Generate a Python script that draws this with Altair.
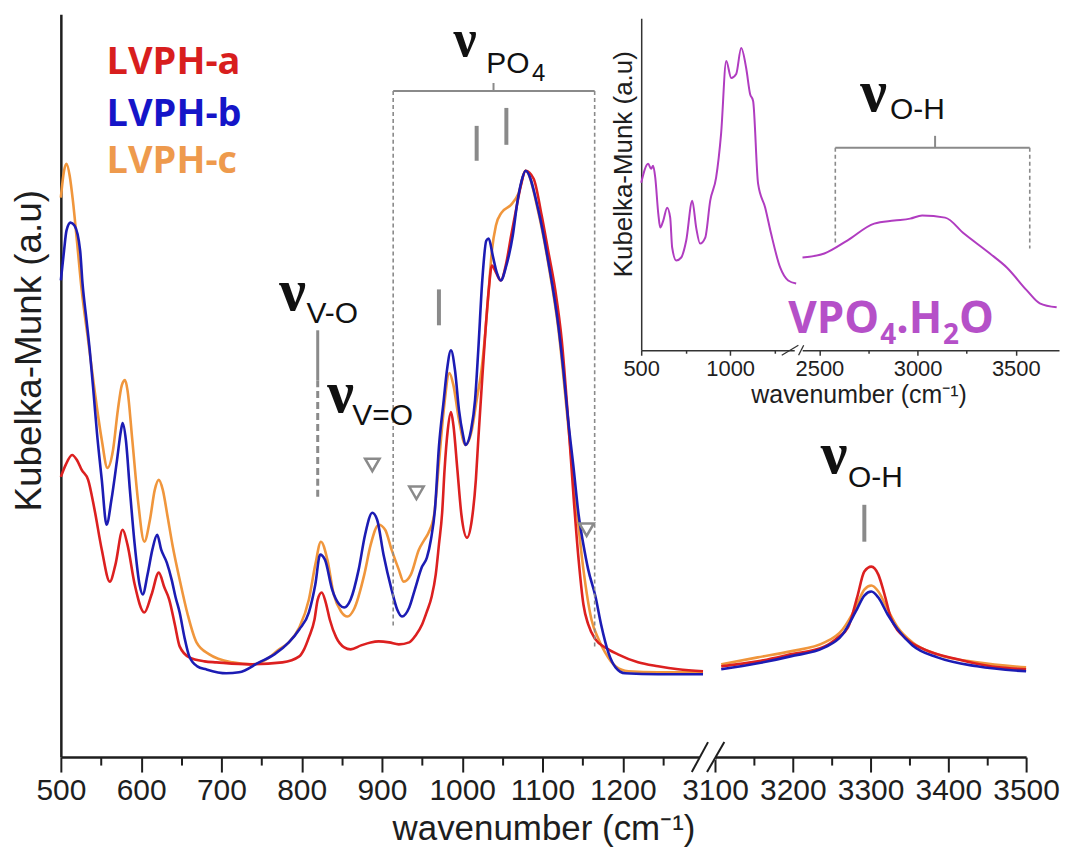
import altair as alt
import pandas as pd

# ---------------- main spectra (wavenumber in cm-1, Kubelka-Munk in a.u.) ----------------
a_wn_low = [500, 506, 514, 520, 526, 534, 542, 551, 561, 568, 577, 583, 592, 604, 613, 622, 629, 635, 642, 648,
            660, 679, 694, 735, 776, 797, 803, 809, 816, 820, 825, 830, 835, 843, 853, 861, 874, 886, 896, 909,
            921, 934, 942, 950, 956, 962, 967, 971, 975, 978, 982, 986, 989, 994, 999, 1006, 1012, 1017, 1020, 1024,
            1029, 1033, 1037, 1042, 1048, 1055, 1061, 1068, 1073, 1079, 1089, 1099, 1107, 1116, 1124, 1132, 1139,
            1145, 1151, 1157, 1166, 1178, 1194, 1219, 1244, 1269, 1300]
a_km_low = [2.81, 2.93, 3.03, 2.98, 2.88, 2.78, 2.48, 2.08, 1.76, 1.93, 2.28, 2.13, 1.73, 1.45, 1.63, 1.85, 1.70, 1.58, 1.33, 1.11,
            1.00, 0.96, 0.95, 0.93, 0.95, 1.01, 1.08, 1.20, 1.38, 1.58, 1.65, 1.55, 1.38, 1.20, 1.10, 1.08, 1.12, 1.15, 1.16, 1.15,
            1.13, 1.15, 1.22, 1.33, 1.46, 1.61, 1.83, 2.13, 2.45, 2.88, 3.28, 3.46, 3.33, 2.88, 2.43, 2.20, 2.38, 2.78, 3.18, 3.68,
            4.28, 4.68, 4.93, 4.86, 4.78, 4.96, 5.23, 5.53, 5.73, 5.88, 5.80, 5.43, 5.08, 4.68, 4.18, 3.38, 2.58,
            1.98, 1.53, 1.33, 1.18, 1.10, 1.03, 0.95, 0.91, 0.88, 0.86]
a_wn_high = [3108, 3155, 3197, 3241, 3258, 3271, 3283, 3292, 3301, 3310, 3318, 3326, 3347, 3369, 3412, 3454, 3500]
a_km_high = [0.91, 0.96, 1.03, 1.11, 1.20, 1.30, 1.61, 1.86, 1.91, 1.83, 1.63, 1.40, 1.18, 1.08, 0.98, 0.91, 0.88]

b_wn_low = [500, 504, 507, 512, 517, 524, 527, 532, 536, 541, 545, 551, 557, 563, 570, 575, 577, 581, 586, 592,
            598, 602, 608, 614, 620, 625, 632, 638, 643, 648, 654, 660, 670, 681, 706, 722, 747, 766, 784, 797,
            809, 817, 823, 829, 838, 847, 853, 861, 871, 879, 888, 894, 902, 912, 919, 925, 934, 941, 950, 956,
            961, 966, 971, 977, 981, 986, 991, 996, 1001, 1004, 1011, 1016, 1020, 1025, 1030, 1033, 1038, 1043, 1048, 1055,
            1063, 1069, 1074, 1079, 1095, 1107, 1120, 1126, 1132, 1139, 1145, 1151, 1157, 1166, 1173, 1182, 1191, 1203, 1244, 1300]
b_km_low = [4.78, 5.08, 5.28, 5.36, 5.33, 5.08, 4.75, 4.38, 4.08, 3.63, 3.25, 2.78, 2.33, 2.58, 2.98, 3.28, 3.35, 3.18, 2.68, 2.13,
            1.73, 1.63, 1.83, 2.08, 2.23, 2.08, 1.95, 1.78, 1.60, 1.45, 1.20, 1.01, 0.91, 0.88, 0.84, 0.85, 0.95, 1.03, 1.15, 1.28,
            1.45, 1.73, 2.03, 1.98, 1.68, 1.53, 1.50, 1.58, 1.88, 2.23, 2.45, 2.38, 2.03, 1.68, 1.48, 1.41, 1.50, 1.68, 1.91, 2.00,
            2.18, 2.48, 3.11, 3.58, 3.88, 4.08, 3.88, 3.48, 3.23, 3.13, 3.28, 3.58, 4.08, 4.78, 5.18, 5.20, 5.03, 4.86, 4.78, 4.93,
            5.23, 5.58, 5.78, 5.88, 5.48, 4.98, 4.31, 3.88, 3.38, 2.88, 2.43, 2.13, 1.88, 1.61, 1.33, 1.05, 0.90, 0.84, 0.83, 0.83]
b_wn_high = [3108, 3155, 3197, 3241, 3264, 3281, 3292, 3301, 3310, 3322, 3335, 3354, 3386, 3437, 3500]
b_km_high = [0.88, 0.94, 1.01, 1.10, 1.23, 1.46, 1.62, 1.66, 1.60, 1.43, 1.28, 1.12, 1.00, 0.91, 0.86]

c_wn_low = [500, 504, 507, 511, 515, 520, 526, 534, 542, 551, 558, 565, 571, 576, 580, 583, 589, 596, 604, 611,
            617, 622, 627, 633, 639, 648, 658, 669, 685, 714, 739, 756, 772, 784, 797, 809, 817, 824, 832, 840,
            849, 857, 865, 878, 886, 896, 904, 912, 921, 927, 936, 946, 953, 958, 965, 971, 977, 984, 989, 996,
            1004, 1012, 1018, 1024, 1029, 1033, 1037, 1042, 1049, 1061, 1070, 1079, 1095, 1107, 1120, 1132, 1142, 1151, 1161, 1170,
            1178, 1191, 1207, 1244, 1300]
c_km_low = [5.61, 5.88, 5.95, 5.83, 5.58, 5.18, 4.68, 4.18, 3.68, 3.18, 2.90, 3.08, 3.48, 3.73, 3.78, 3.68, 3.18, 2.58, 2.16, 2.38,
            2.68, 2.78, 2.68, 2.41, 2.13, 1.78, 1.43, 1.15, 1.03, 0.95, 0.93, 0.98, 1.08, 1.15, 1.30, 1.58, 1.93, 2.16, 1.98, 1.63,
            1.46, 1.41, 1.48, 1.83, 2.13, 2.33, 2.28, 2.08, 1.88, 1.76, 1.83, 2.08, 2.18, 2.25, 2.43, 2.95, 3.48, 3.85, 3.73, 3.38,
            3.13, 3.28, 3.58, 3.88, 4.28, 4.68, 5.08, 5.33, 5.46, 5.54, 5.65, 5.88, 5.46, 4.96, 4.28, 3.33, 2.53, 1.88, 1.38, 1.18,
            1.05, 0.91, 0.86, 0.85, 0.85]
c_wn_high = [3108, 3155, 3197, 3241, 3264, 3281, 3292, 3301, 3310, 3322, 3335, 3354, 3386, 3437, 3500]
c_km_high = [0.93, 1.00, 1.06, 1.15, 1.28, 1.50, 1.68, 1.72, 1.66, 1.48, 1.30, 1.15, 1.03, 0.95, 0.90]

# ---------------- inset spectrum VPO4.H2O ----------------
v_wn_low = [500, 539, 556, 567, 579, 596, 607, 624, 646, 663, 674, 697, 725, 753, 787, 809, 831, 860, 888, 921,
            949, 978, 1006, 1034, 1062, 1090, 1112, 1129, 1157, 1197, 1230, 1281, 1326, 1371]
v_km_low = [1.68, 1.87, 1.82, 1.85, 1.73, 1.37, 1.23, 1.30, 1.43, 1.33, 1.03, 0.90, 0.93, 1.10, 1.50, 1.23, 1.07, 1.13, 1.50, 1.73,
            2.17, 2.90, 2.73, 2.77, 3.03, 2.83, 2.57, 2.50, 1.67, 1.43, 1.17, 0.83, 0.70, 0.67]
v_wn_high = [2414, 2525, 2642, 2779, 2881, 2962, 3023, 3140, 3236, 3368, 3454, 3556, 3622, 3708]
v_km_high = [0.93, 0.97, 1.10, 1.27, 1.30, 1.32, 1.35, 1.33, 1.17, 0.97, 0.83, 0.60, 0.47, 0.43]

series_names = ["LVPH-a", "LVPH-b", "LVPH-c"]
series_colors = ["#dc2020", "#1c1cb4", "#f0963c"]
legend_colors = ["#d81e1e", "#1515c8", "#ee9a4d"]

main_major_ticks = [500, 600, 700, 800, 900, 1000, 1100, 1200, 3100, 3200, 3300, 3400, 3500]
main_minor_ticks = [550, 650, 750, 850, 950, 1050, 1150, 1250, 3150, 3250, 3350, 3450]
inset_major_ticks = [500, 1000, 2500, 3000, 3500]
inset_minor_ticks = [750, 1250, 2750, 3250]


def frame(name, seg, wn, km):
    return pd.DataFrame({"series": name, "segment": seg, "wavenumber": wn, "km": km})


spec_a = pd.concat([frame("LVPH-a", "low", a_wn_low, a_km_low), frame("LVPH-a", "high", a_wn_high, a_km_high)])
spec_b = pd.concat([frame("LVPH-b", "low", b_wn_low, b_km_low), frame("LVPH-b", "high", b_wn_high, b_km_high)])
spec_c = pd.concat([frame("LVPH-c", "low", c_wn_low, c_km_low), frame("LVPH-c", "high", c_wn_high, c_km_high)])
spec_v = pd.concat([frame("VPO4.H2O", "low", v_wn_low, v_km_low), frame("VPO4.H2O", "high", v_wn_high, v_km_high)])

SANS = "Liberation Sans"
SERIF = "Liberation Serif"
INK = "#1e1e1e"
GREY = "#8a8a8a"

# ---------------- scales (broken axes through piecewise linear scales) ----------------
x_main = alt.Scale(domain=[500, 1300, 3100, 3500], range=[0, 644, 656, 968], zero=False, nice=False)
y_main = alt.Scale(domain=[0, 7.45], range=[745, 0], zero=False, nice=False)
x_ins = alt.Scale(domain=[500, 1380, 2400, 3720], range=[582, 739, 741, 1001], zero=False, nice=False)
y_ins = alt.Scale(domain=[0, 3.33], range=[337, 4], zero=False, nice=False)

main_x_axis = alt.Axis(
    orient="bottom", values=main_major_ticks, format="d",
    tickSize=15, tickWidth=2, tickColor=INK, domainColor=INK, domainWidth=2.5,
    labelFont=SANS, labelFontSize=30, labelColor=INK, labelPadding=4,
    labelFlush=False, labelOverlap=False,
    title="wavenumber (cm⁻¹)", titleFont=SANS, titleFontSize=35, titleFontWeight="normal",
    titleColor=INK, titlePadding=6, grid=False)
main_x_minor = alt.Axis(
    orient="bottom", values=main_minor_ticks, tickSize=8, tickWidth=2, tickColor=INK,
    labels=False, domain=False, title=None, grid=False)
main_y_axis = alt.Axis(
    orient="left", title="Kubelka-Munk (a.u)", ticks=False, labels=False, domainColor=INK, domainWidth=2.5,
    titleFont=SANS, titleFontSize=37, titleFontWeight="normal", titleColor=INK,
    titlePadding=12, titleY=337, grid=False)
ins_x_axis = alt.Axis(
    orient="bottom", offset=-408, values=inset_major_ticks, format="d",
    tickSize=5, tickWidth=1.5, tickColor="#333", domainColor="#333", domainWidth=1.5,
    labelFont=SANS, labelFontSize=22, labelColor=INK, labelPadding=3,
    labelFlush=False, labelOverlap=False,
    title="wavenumber (cm⁻¹)", titleFont=SANS, titleFontSize=25, titleFontWeight="normal",
    titleColor=INK, titlePadding=3, titleX=800, grid=False)
ins_x_minor = alt.Axis(
    orient="bottom", offset=-408, values=inset_minor_ticks, tickSize=3, tickWidth=1.5, tickColor="#333",
    labels=False, domain=False, title=None, grid=False)
ins_y_axis = alt.Axis(
    orient="left", offset=-582, title="Kubelka-Munk (a.u)", ticks=False, labels=False,
    domainColor="#333", domainWidth=1.5, titleFont=SANS, titleFontSize=26, titleFontWeight="normal",
    titleColor=INK, titlePadding=5, titleY=150, grid=False)


def X(axis=None):
    return alt.X("x:Q", scale=x_main, axis=axis)


def Y(axis=None):
    return alt.Y("y:Q", scale=y_main, axis=axis)


def XI(axis=None):
    return alt.X("x:Q", scale=x_ins, axis=axis)


def YI(axis=None):
    return alt.Y("y:Q", scale=y_ins, axis=axis)


# ---------------- main layers ----------------
line_layers = []
for i, (df, col) in enumerate([(spec_c, series_colors[2]), (spec_a, series_colors[0]), (spec_b, series_colors[1])]):
    line_layers.append(
        alt.Chart(df).mark_line(color=col, strokeWidth=2.6, strokeJoin="round", interpolate="monotone").encode(
            x=alt.X("wavenumber:Q", scale=x_main, axis=main_x_axis if i == 0 else None),
            y=alt.Y("km:Q", scale=y_main, axis=main_y_axis if i == 0 else None),
            detail="segment:N"))

minor_df = pd.DataFrame({"x": [500], "y": [0.0]})
main_minor = alt.Chart(minor_df).mark_point(opacity=0).encode(x=X(main_x_minor), y=Y())

legend_df = pd.DataFrame({"x": [557, 557, 557], "y": [6.96, 6.44, 5.97],
                          "text": series_names, "c": legend_colors})
legend = alt.Chart(legend_df).mark_text(font="Open Sans", fontWeight="bold", fontSize=38,
                                        align="left", baseline="middle").encode(
    x=X(), y=Y(), text="text:N", color=alt.Color("c:N", scale=None))

nu_df = pd.DataFrame({"x": [772, 832, 3236], "y": [4.48, 3.46, 2.85], "text": ["ν"] * 3})
nu = alt.Chart(nu_df).mark_text(font=SERIF, fontWeight="bold", fontSize=60, align="left",
                                baseline="alphabetic", color="#111").encode(x=X(), y=Y(), text="text:N")
nu_top_df = pd.DataFrame({"x": [989], "y": [7.03], "text": ["ν"]})
nu_top = alt.Chart(nu_top_df).mark_text(font=SERIF, fontWeight="bold", fontSize=52, align="left",
                                        baseline="alphabetic", color="#111").encode(x=X(), y=Y(), text="text:N")
sub_df = pd.DataFrame({"x": [806, 863, 1030, 3271], "y": [4.35, 3.33, 6.86, 2.71],
                       "text": ["V-O", "V=O", "PO", "O-H"]})
sub = alt.Chart(sub_df).mark_text(font=SANS, fontSize=30, align="left", baseline="alphabetic",
                                  color="#111").encode(x=X(), y=Y(), text="text:N")
subsub_df = pd.DataFrame({"x": [1087], "y": [6.78], "text": ["4"]})
subsub = alt.Chart(subsub_df).mark_text(font=SANS, fontSize=24, align="left", baseline="alphabetic",
                                        color="#111").encode(x=X(), y=Y(), text="text:N")

solid_df = pd.DataFrame({
    "x": [820, 971, 1018, 1055, 3292, 914, 1039],
    "x2": [820, 971, 1018, 1055, 3292, 1165, 1039],
    "y": [4.28, 4.69, 6.33, 6.51, 2.53, 6.68, 6.68],
    "y2": [3.78, 4.33, 5.98, 6.14, 2.16, 6.68, 6.76],
    "w": [3, 4, 4, 4, 4, 2, 2]})
solid = alt.Chart(solid_df).mark_rule(color=GREY).encode(
    x=X(), x2="x2:Q", y=Y(), y2="y2:Q", strokeWidth=alt.StrokeWidth("w:Q", scale=None))
dash_df = pd.DataFrame({"x": [820], "y": [3.78], "y2": [2.61]})
dash_thick = alt.Chart(dash_df).mark_rule(color=GREY, strokeWidth=3, strokeDash=[7, 4]).encode(
    x=X(), y=Y(), y2="y2:Q")
dash2_df = pd.DataFrame({"x": [914, 1165], "y": [6.68, 6.68], "y2": [1.30, 1.10]})
dash_thin = alt.Chart(dash2_df).mark_rule(color=GREY, strokeWidth=1.6, strokeDash=[4, 3]).encode(
    x=X(), y=Y(), y2="y2:Q")

tri_df = pd.DataFrame({"x": [888, 943, 1155], "y": [2.93, 2.65, 2.28]})
tri = alt.Chart(tri_df).mark_point(shape="triangle-down", filled=False, size=210, strokeWidth=2.5,
                                   color=GREY, opacity=1).encode(x=X(), y=Y())

# axis break of the main chart: white gap in the axis line and two slashes
gap_df = pd.DataFrame({"x": [1296], "x2": [3101], "y": [0.0]})
gap = alt.Chart(gap_df).mark_rule(color="white", strokeWidth=6).encode(x=X(), x2="x2:Q", y=Y())
slash_df = pd.DataFrame({"x": [1286, 1900], "x2": [2050, 3112], "y": [-0.15, -0.15], "y2": [0.15, 0.15]})
slash = alt.Chart(slash_df).mark_rule(color=INK, strokeWidth=2).encode(x=X(), x2="x2:Q", y=Y(), y2="y2:Q")

# ---------------- inset layers ----------------
ins_line = alt.Chart(spec_v).mark_line(color="#b03cc0", strokeWidth=2, interpolate="monotone").encode(
    x=alt.X("wavenumber:Q", scale=x_ins, axis=ins_x_axis),
    y=alt.Y("km:Q", scale=y_ins, axis=ins_y_axis),
    detail="segment:N")
ins_minor = alt.Chart(minor_df).mark_point(opacity=0).encode(x=XI(ins_x_minor), y=YI())

ins_solid_df = pd.DataFrame({"x": [2581, 3089], "x2": [3571, 3089], "y": [2.03, 2.03], "y2": [2.03, 2.15]})
ins_solid = alt.Chart(ins_solid_df).mark_rule(color=GREY, strokeWidth=2).encode(
    x=XI(), x2="x2:Q", y=YI(), y2="y2:Q")
ins_dash_df = pd.DataFrame({"x": [2581, 3571], "y": [2.03, 2.03], "y2": [1.05, 1.02]})
ins_dash = alt.Chart(ins_dash_df).mark_rule(color=GREY, strokeWidth=1.6, strokeDash=[4, 3]).encode(
    x=XI(), y=YI(), y2="y2:Q")

ins_nu_df = pd.DataFrame({"x": [2708], "y": [2.40], "text": ["ν"]})
ins_nu = alt.Chart(ins_nu_df).mark_text(font=SERIF, fontWeight="bold", fontSize=60, align="left",
                                        baseline="alphabetic", color="#111").encode(x=XI(), y=YI(), text="text:N")
ins_sub_df = pd.DataFrame({"x": [2860], "y": [2.32], "text": ["O-H"]})
ins_sub = alt.Chart(ins_sub_df).mark_text(font=SANS, fontSize=30, align="left", baseline="alphabetic",
                                          color="#111").encode(x=XI(), y=YI(), text="text:N")

name_big_df = pd.DataFrame({"x": [1326, 2891, 3211], "y": [0.17, 0.17, 0.17], "text": ["VPO", ".H", "O"]})
name_big = alt.Chart(name_big_df).mark_text(font="Open Sans", fontWeight="bold", fontSize=44, align="left",
                                            baseline="alphabetic", color="#b550c8").encode(x=XI(), y=YI(), text="text:N")
name_small_df = pd.DataFrame({"x": [2810, 3129], "y": [0.06, 0.06], "text": ["4", "2"]})
name_small = alt.Chart(name_small_df).mark_text(font="Open Sans", fontWeight="bold", fontSize=28, align="left",
                                                baseline="alphabetic", color="#b550c8").encode(x=XI(), y=YI(), text="text:N")

# axis break of the inset
ins_gap_df = pd.DataFrame({"x": [1363], "x2": [2415], "y": [0.0]})
ins_gap = alt.Chart(ins_gap_df).mark_rule(color="white", strokeWidth=4).encode(x=XI(), x2="x2:Q", y=YI())
ins_slash_df = pd.DataFrame({"x": [1290, 1800], "x2": [1700, 2420], "y": [-0.05, -0.05], "y2": [0.05, 0.05]})
ins_slash = alt.Chart(ins_slash_df).mark_rule(color="#333", strokeWidth=1.3).encode(
    x=XI(), x2="x2:Q", y=YI(), y2="y2:Q")

chart = alt.layer(
    *line_layers, main_minor, gap, slash, solid, dash_thick, dash_thin, tri, legend, nu, nu_top, sub, subsub,
    ins_line, ins_minor, ins_gap, ins_slash, ins_solid, ins_dash, ins_nu, ins_sub, name_big, name_small,
).resolve_scale(x="independent", y="independent").properties(
    width=968, height=745,
    autosize=alt.AutoSizeParams(type="none"),
    padding={"left": 53, "top": 5, "right": 40, "bottom": 100},
    background="white",
).configure_view(stroke=None)

chart.save("out.html", embed_options={"renderer": "svg", "actions": False})
